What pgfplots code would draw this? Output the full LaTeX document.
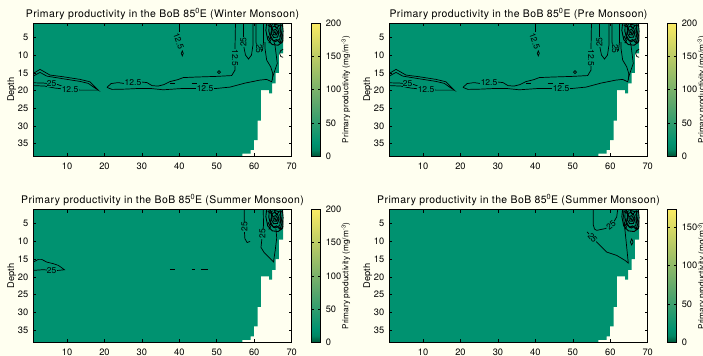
\documentclass[border=0pt]{standalone}
\usepackage{pgfplots}
\pgfplotsset{compat=1.18}
\usepackage{fontspec}
\setmainfont{TeX Gyre Heros}
\definecolor{bg}{RGB}{255,255,240}
\definecolor{fg}{RGB}{0,146,112}
\tikzset{
  ct/.style={black, line width=0.7bp},
  lab/.style={font=\fontsize{8.5}{9}\selectfont, fill=fg, inner sep=0.3bp},
}
\pgfplotsset{
  colormap={pp}{rgb255(0)=(0,85,55) rgb255(1)=(0,135,100) rgb255(2)=(0,146,112) rgb255(8)=(95,168,108) rgb255(14)=(175,198,102) rgb255(20)=(250,235,100)},
  ppbase/.style={
    scale only axis, width=258.4bp, height=132.7bp,
    xmin=1, xmax=70, ymin=1, ymax=38.5, y dir=reverse,
    xtick={10,20,...,70}, ytick={5,10,...,35},
    tick align=inside, xtick pos=both, ytick pos=both,
    xticklabel pos=lower, yticklabel pos=left,
    major tick length=3bp,
    tick style={black, line width=0.6bp},
    axis line style={black, line width=0.8bp},
    axis on top,
    /pgf/number format/assume math mode=true,
    ticklabel style={font=\fontsize{9.3}{10}\selectfont},
    xticklabel style={yshift=-3bp},
    yticklabel style={xshift=-1.5bp},
    ylabel={Depth},
    every axis y label/.style={font=\fontsize{9.3}{10}\selectfont, at={(axis description cs:0,0.5)}, rotate=90, anchor=center, yshift=21.6bp},
    title style={font=\fontsize{10.5}{11}\selectfont\addfontfeature{LetterSpace=4}, at={(axis description cs:0.5,1)}, anchor=south, inner sep=1.2bp, yshift=-3.5bp},
    colorbar,
    colormap name=pp,
    point meta min=0, point meta max=200,
    colorbar style={
      at={(parent axis.north east)}, anchor=north west, xshift=11.3bp,
      scale only axis, width=9.3bp, height=132.7bp,
      ytick={0,50,...,200},
      tick align=inside, major tick length=2.5bp,
      tick style={black, line width=0.6bp},
      axis line style={black, line width=0.8bp},
      yticklabel pos=right,
      /pgf/number format/assume math mode=true,
      yticklabel style={font=\fontsize{9.3}{10}\selectfont, xshift=1.5bp},
      ylabel={Primary productivity (mg/m\textsuperscript{-3})},
      every axis y label/.style={font=\fontsize{8.3}{9}\selectfont, at={(axis description cs:1,0.5)}, rotate=90, anchor=center, yshift=-25bp},
    },
  },
}
\newcommand{\landfill}{%
  \addplot[fill=fg, draw=none] coordinates {(1,1) (67.7,1) (67.7,9.5) (66.6,9.5) (66.6,15) (65.7,15) (65.7,18) (64.8,18) (64.8,20.8) (64.0,20.8) (64.0,19.9) (61.8,19.9) (61.8,28.5) (60.9,28.5) (60.9,34) (59.9,34) (59.9,36.8) (59.0,36.8) (59.0,37.8) (56.8,37.8) (56.8,38.5) (1,38.5)} -- cycle;
}
\newcommand{\blob}{%
  \addplot[ct, line width=0.9bp] coordinates {(63.3,1) (63.1,3) (63.6,5.6) (64.8,7.0) (66.4,7.2) (67.6,6.2) (67.7,3.2) (67.5,1)};
  \addplot[ct, line width=0.9bp] coordinates {(64.0,1.0) (63.9,3.2) (64.4,5.3) (65.6,6.2) (66.8,5.5) (67.2,3.5) (66.9,1.0)};
  \addplot[ct, line width=0.9bp] coordinates {(64.6,2.2) (64.5,3.8) (65.2,5.0) (66.2,4.9) (66.6,3.6) (66.2,2.3) (65.4,1.8)} -- cycle;
  \addplot[ct, line width=0.9bp] coordinates {(65.0,3.0) (65.1,4.2) (65.9,4.3) (66.2,3.4) (65.7,2.7)} -- cycle;
  \addplot[ct, line width=0.9bp] coordinates {(63.6,1.4) (64.3,2.0) (64.9,1.3)};
  \addplot[ct, line width=0.9bp] coordinates {(66.7,5.9) (67.3,6.5) (67.7,5.6)};
  \addplot[ct, line width=0.9bp] coordinates {(64.2,1) (64.9,2.6) (64.3,4.4) (65.1,6.0) (66.0,5.6) (66.9,6.6) (67.5,4.5) (66.8,2.5) (67.3,1.4)};
  \addplot[ct, line width=0.9bp] coordinates {(65.3,1.2) (65.9,2.4) (66.7,1.6)} -- cycle;
  \addplot[ct, line width=0.9bp] coordinates {(63.7,4.6) (64.3,5.9) (63.9,6.6)};
  \addplot[ct, line width=0.9bp] coordinates {(65.5,3.3) (65.7,3.9) (65.4,3.6)} -- cycle;
  \node[font=\fontsize{6}{6}\selectfont, inner sep=0pt, rotate=-60] at (axis cs:66.9,4.2) {25};
}
\newcommand{\contA}{%
  \addplot[ct] coordinates {(1,15.15) (2.79,14.02) (5.46,15.63) (9.01,16.11) (13.47,16.85) (16.14,17.53) (17.48,18.94) (18.36,19.88) (17.48,19.31) (15.69,17.98) (13.47,17.42) (9.01,16.68) (4.58,15.92) (2.79,14.87) (1,15.92)};
  \addplot[ct] coordinates {(1,17.81) (3.86,17.9) (5.73,18.1) (7.6,18.32) (8.93,18.89)};
  \addplot[ct] coordinates {(1,18.6) (4.12,18.75) (6.79,19.31) (10.8,19.74) (13.47,19.88) (18.36,19.88)};
  \addplot[ct] coordinates {(20.68,19.11) (21.75,18.04) (23.62,17.76) (25.49,18.04) (27.62,17.81) (30.03,17.61) (31.37,17.76) (32.70,18.61) (34.30,18.75) (35.90,18.32) (37.50,17.47) (39.64,16.91) (41.05,16.34) (44.18,16.2) (49.97,16.0) (53.98,15.77) (54.86,14.22) (54.86,11.39) (54.86,7.99) (54.99,1)};
  \addplot[ct] coordinates {(20.68,19.11) (22.01,19.68) (25.49,19.6) (29.48,19.4) (32.16,19.4) (35.71,19.79) (41.05,19.4) (46.85,19.4) (49.97,19.4) (53.53,19.03) (57.53,17.9) (61.53,17.05) (63.32,16.85) (64.66,17.53) (64.93,16.11) (65.54,14.22) (66.15,12.32) (65.81,9.49) (65.54,7.14) (65.27,6.29)};
  \addplot[ct] coordinates {(37.5,17.9) (38.84,17.9)};
  \addplot[ct] coordinates {(43.3,17.85) (44.63,17.85)};
  \addplot[ct] coordinates {(46.31,17.85) (47.65,17.85)};
  \addplot[ct] coordinates {(39.99,1) (39.99,3.38)};
  \addplot[ct] coordinates {(40.79,8.8) (41.06,9.49) (40.79,10.2) (40.52,9.49)} -- cycle;
  \addplot[ct] coordinates {(50.59,14.36) (51.0,14.78) (50.59,15.2) (50.18,14.78)} -- cycle;
  \addplot[ct] coordinates {(57.13,1) (57.13,7.14) (57.66,9.97) (58.46,11.1) (59.26,9.97) (59.66,7.14) (59.66,1)};
  \addplot[ct] coordinates {(60.47,1) (60.47,6.29) (60.87,8.56) (61.53,9.41) (62.2,8.56) (62.47,6.29) (62.47,1)};
  \addplot[ct] coordinates {(62.87,6.29) (62.87,8.08) (63.32,11.39) (64.39,13.28) (64.93,15.15) (64.9,17.05)};
  \addplot[ct] coordinates {(67.7,8.3) (67.0,8.8) (66.8,9.6) (67.1,10.4) (67.7,10.6)};
  \blob
  \node[lab] at (axis cs:5.9,18.1) {25};
  \node[lab] at (axis cs:10.8,19.74) {12.5};
  \node[lab] at (axis cs:27.62,17.81) {12.5};
  \node[lab] at (axis cs:46.85,19.4) {12.5};
  \node[lab, rotate=-90] at (axis cs:54.86,10.68) {12.5};
  \node[lab, rotate=-70] at (axis cs:39.8,6.0) {12.5};
  \node[lab, rotate=90] at (axis cs:57.13,6.3) {25};
  \node[lab, rotate=-90] at (axis cs:61.3,8.2) {25};
}
\newcommand{\contC}{%
  \addplot[ct] coordinates {(1,15.83) (2.34,15.07) (3.24,15.07) (4.58,15.83) (6.34,16.28) (7.68,16.77) (8.58,17.42) (9.3,18.0) (7.68,18.18) (5.91,18.2) (3.67,17.98) (1,18.18)};
  \addplot[ct] coordinates {(37.5,17.9) (38.84,17.9)};
  \addplot[ct] coordinates {(43.3,17.9) (44.18,17.9)};
  \addplot[ct] coordinates {(45.9,17.9) (47.7,17.9)};
  \addplot[ct] coordinates {(57.34,1) (57.34,6.5) (57.5,9.2) (58.1,10.3) (58.9,10.0)};
  \addplot[ct] coordinates {(62.41,1) (62.47,5.44) (62.06,9.12) (61.8,11.67) (62.6,13.08) (64.2,14.78) (65.14,15.77) (65.6,12.5) (66.0,9) (65.8,6.5)};
  \blob
  \node[lab] at (axis cs:5.91,18.3) {25};
  \node[lab, rotate=90] at (axis cs:57.38,5.9) {25};
  \node[lab, rotate=90] at (axis cs:62.2,7.8) {25};
}
\newcommand{\contD}{%
  \addplot[ct] coordinates {(55.47,1) (55.47,5.3) (55.8,6.5) (56.38,6.86) (58.6,6.38) (60.39,5.44) (61.72,3.09) (61.99,1)};
  \addplot[ct] coordinates {(53.8,7.3) (55.47,9.21) (56.81,10.62) (59.05,13.0) (61.72,13.94) (63.94,15.35) (64.82,16.11) (64.39,11.59) (63.94,6.86) (63.48,2.13) (63.4,1)};
  \addplot[ct] coordinates {(65.73,9.3) (66.1,10.17) (65.73,11.0) (65.36,10.17)} -- cycle;
  \blob
  \node[lab, rotate=40] at (axis cs:60.2,5.4) {25};
  \node[lab, rotate=-50] at (axis cs:55.3,9.0) {25};
}
\begin{document}
\begin{tikzpicture}
\path[use as bounding box] (0,0) rectangle (703bp,356bp);
\clip (0,0) rectangle (703bp,356bp);
\fill[bg] (0,0) rectangle (703bp,356bp);
\begin{axis}[ppbase, at={(33.3bp,200bp)}, anchor=south west,
  title={Primary productivity in the BoB 85\textsuperscript{0}E (Winter Monsoon)}]
\landfill
\contA
\end{axis}
\begin{axis}[ppbase, at={(389.3bp,200bp)}, anchor=south west,
  title={Primary productivity in the BoB 85\textsuperscript{0}E (Pre Monsoon)}]
\landfill
\contA
\end{axis}
\begin{axis}[ppbase, at={(33.3bp,13.7bp)}, anchor=south west,
  title={Primary productivity in the BoB 85\textsuperscript{0}E (Summer Monsoon)}]
\landfill
\contC
\end{axis}
\begin{axis}[ppbase, at={(389.3bp,13.7bp)}, anchor=south west,
  point meta max=173,
  colorbar style={ytick={0,50,100,150}},
  title={Primary productivity in the BoB 85\textsuperscript{0}E (Summer Monsoon)}]
\landfill
\contD
\end{axis}
\end{tikzpicture}
\end{document}
